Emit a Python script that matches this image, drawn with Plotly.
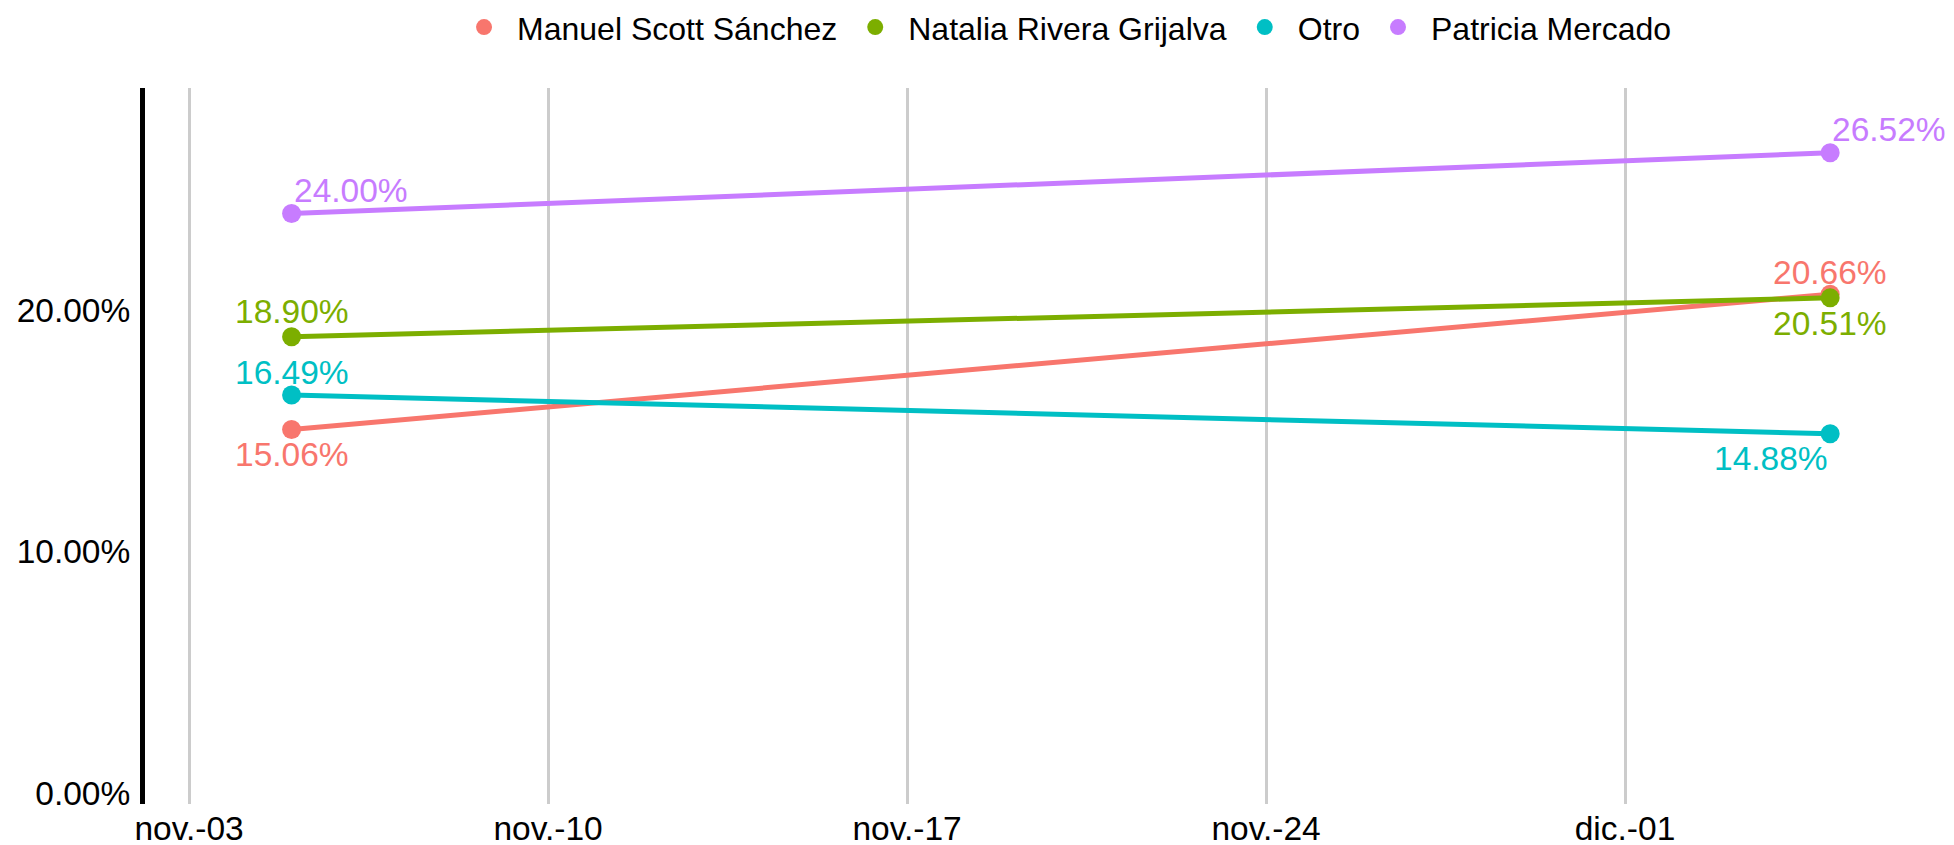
import plotly.graph_objects as go

# data
dates = ["2024-11-05", "2024-12-05"]
candidates = ["Manuel Scott Sánchez", "Natalia Rivera Grijalva", "Otro", "Patricia Mercado"]
manuel = [15.06, 20.66]
natalia = [18.90, 20.51]
otro = [16.49, 14.88]
patricia = [24.00, 26.52]

tick_dates = ["2024-11-03", "2024-11-10", "2024-11-17", "2024-11-24", "2024-12-01"]
tick_labels = ["nov.-03", "nov.-10", "nov.-17", "nov.-24", "dic.-01"]
y_ticks = [0, 10, 20]
y_labels = ["0.00%", "10.00%", "20.00%"]

colors = ["#F8766D", "#7CAE00", "#00BFC4", "#C77CFF"]
series = [manuel, natalia, otro, patricia]
# label placement per point: (xanchor, yshift)
label_pos = [
    [("center", -25), ("center", 22)],
    [("center", 25), ("center", -26)],
    [("center", 22), ("right", -25)],
    [("left", 23), ("left", 23)],
]

font_family = "Liberation Sans, Arial, sans-serif"

fig = go.Figure()

for name, values, color in zip(candidates, series, colors):
    fig.add_trace(go.Scatter(
        x=dates, y=values, mode="lines",
        line=dict(color=color, width=5),
        showlegend=False, hoverinfo="skip",
    ))

for name, values, color in zip(candidates, series, colors):
    fig.add_trace(go.Scatter(
        x=dates, y=values, mode="markers", name=name,
        marker=dict(color=color, size=19),
    ))

for values, color, pos in zip(series, colors, label_pos):
    for d, v, (anchor, shift) in zip(dates, values, pos):
        fig.add_annotation(
            x=d, y=v, text=f"{v:.2f}%", showarrow=False,
            xanchor=anchor, yanchor="middle", yshift=shift,
            font=dict(color=color, size=33.5, family=font_family),
        )

# page body has an 8px margin, so the figure is a bit smaller than the window
fig.update_layout(
    width=1946, height=837,
    plot_bgcolor="white", paper_bgcolor="white",
    margin=dict(l=137, r=14, t=80, b=41, autoexpand=False),
    font=dict(family=font_family, size=33.5, color="black"),
    legend=dict(
        orientation="h", x=0.512, xanchor="center",
        yref="container", y=0.977, yanchor="middle",
        font=dict(size=32), traceorder="normal", itemwidth=56,
    ),
)

fig.update_xaxes(
    type="date",
    range=["2024-11-02 03:24", "2024-12-07 03:24"],
    tickvals=tick_dates, ticktext=tick_labels,
    showgrid=True, gridcolor="#cccccc", gridwidth=2.5,
    showline=False, zeroline=False, ticks="",
    ticklabelstandoff=1, automargin=False,
)

fig.update_yaxes(
    range=[-0.45, 29.2],
    tickvals=y_ticks, ticktext=y_labels,
    showgrid=False, zeroline=False,
    showline=True, linecolor="black", linewidth=5,
    ticks="", ticklabelstandoff=3, automargin=False,
)

fig.write_html("out.html")
